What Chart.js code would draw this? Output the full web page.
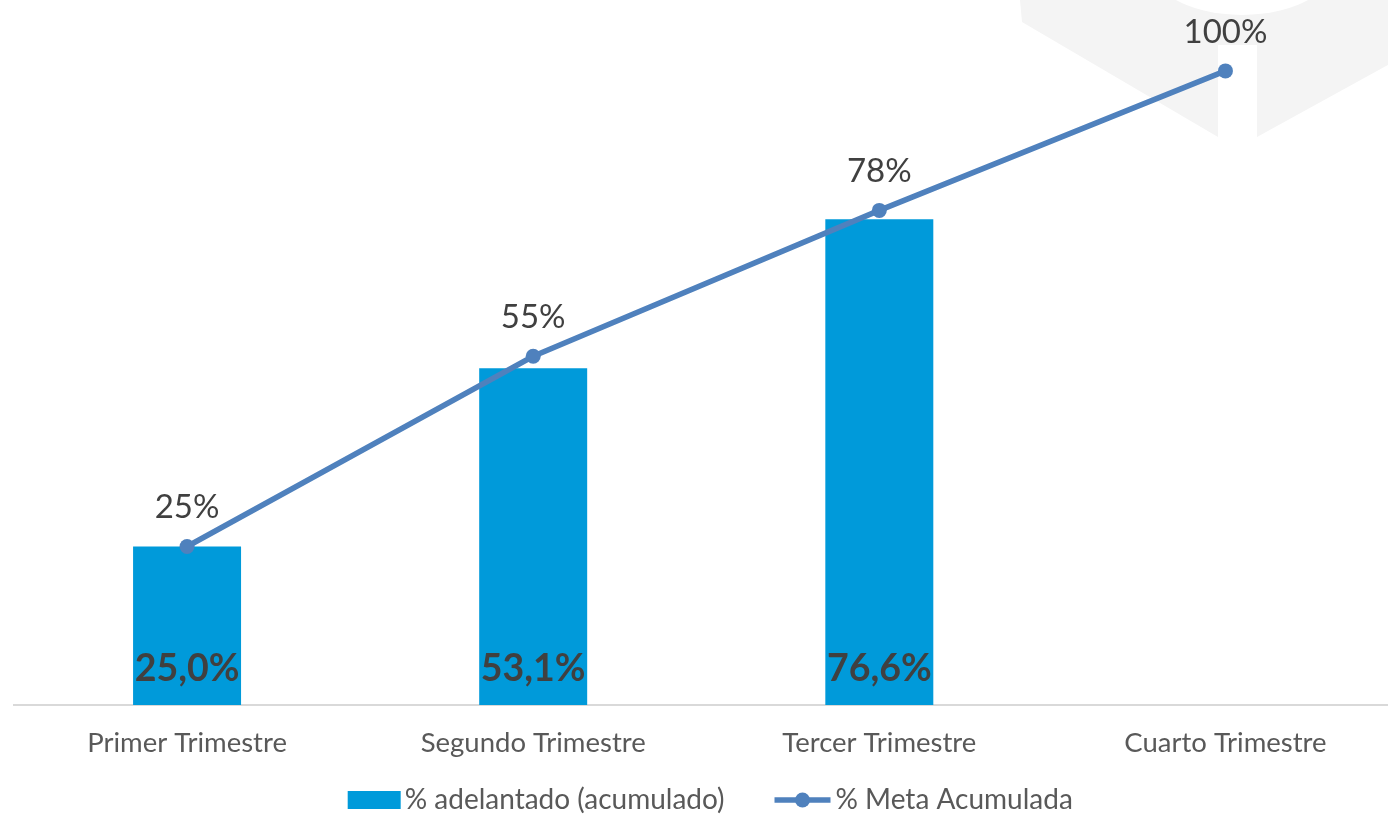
<!DOCTYPE html>
<html>
<head>
<meta charset="utf-8">
<script src="https://cdn.jsdelivr.net/npm/chart.js@4"></script>
<style>
  html, body { margin: 0; padding: 0; background: #fff; overflow: hidden; }
  #wrap { width: 1406px; height: 815px; }
</style>
</head>
<body>
<div id="wrap"><canvas id="chart" width="1406" height="815"></canvas></div>
<script>
// datos del gráfico
const categorias = ["Primer Trimestre", "Segundo Trimestre", "Tercer Trimestre", "Cuarto Trimestre"];
const adelantado = [25.0, 53.1, 76.6, null];
const metaAcumulada = [25, 55, 78, 100];
const nombreBarras = "% adelantado (acumulado)";
const nombreLinea = "% Meta Acumulada";

const azulBarra = "#009ADA";
const azulLinea = "#4F81BD";
const FUENTE = "Lato, 'Open Sans', sans-serif";

// marca de agua gris al fondo (arriba a la derecha)
const fondo = {
    id: "fondo",
    beforeDraw(chart) {
        const c = chart.ctx;
        c.save();
        c.fillStyle = "#F4F4F4";
        c.beginPath();
        c.moveTo(1020, 0);
        c.lineTo(1406, 0);
        c.lineTo(1406, 55);
        c.lineTo(1257, 137);
        c.lineTo(1257, 45);
        c.lineTo(1218, 45);
        c.lineTo(1218, 137);
        c.lineTo(1022, 22);
        c.closePath();
        c.fill();
        c.fillStyle = "#FFFFFF";
        c.beginPath();
        c.ellipse(1242, -45, 100, 60, 0, 0, Math.PI * 2);
        c.fill();
        c.restore();
    }
};

// etiquetas de valores
const etiquetas = {
    id: "etiquetas",
    afterDatasetsDraw(chart) {
        const c = chart.ctx;
        const base = chart.scales.y.getPixelForValue(0);
        c.save();
        c.textAlign = "center";
        c.textBaseline = "middle";
        c.fillStyle = "#404040";
        c.font = "bold 37.5px " + FUENTE;
        chart.getDatasetMeta(0).data.forEach((el, i) => {
            const v = adelantado[i];
            if (v == null) return;
            c.fillText(v.toFixed(1).replace(".", ",") + "%", el.x, base - 36);
        });
        c.font = "33px " + FUENTE;
        chart.getDatasetMeta(1).data.forEach((el, i) => {
            c.fillText(metaAcumulada[i] + "%", el.x, el.y - 39);
        });
        c.restore();
    }
};

// leyenda dibujada a mano
const leyenda = {
    id: "leyenda",
    afterDraw(chart) {
        const c = chart.ctx;
        const area = chart.chartArea;
        const y = 800;
        c.save();
        c.font = "28px " + FUENTE;
        c.textBaseline = "middle";
        const w1 = c.measureText(nombreBarras).width;
        const w2 = c.measureText(nombreLinea).width;
        const total = 53 + 4 + w1 + 50 + 56 + 5 + w2;
        let x = (area.left + area.right) / 2 - total / 2 + 4;
        c.fillStyle = azulBarra;
        c.fillRect(x, y - 9, 53, 18);
        x += 57;
        c.fillStyle = "#595959";
        c.fillText(nombreBarras, x, y);
        x += w1 + 50;
        c.strokeStyle = azulLinea;
        c.lineWidth = 5.5;
        c.beginPath();
        c.moveTo(x, y);
        c.lineTo(x + 56, y);
        c.stroke();
        c.fillStyle = azulLinea;
        c.beginPath();
        c.arc(x + 28, y, 7.5, 0, Math.PI * 2);
        c.fill();
        x += 61;
        c.fillStyle = "#595959";
        c.fillText(nombreLinea, x, y);
        c.restore();
    }
};

new Chart(document.getElementById("chart"), {
    type: "bar",
    data: {
        labels: categorias,
        datasets: [
            {
                type: "bar",
                label: nombreBarras,
                data: adelantado,
                backgroundColor: azulBarra,
                barPercentage: 0.312,
                categoryPercentage: 1,
                order: 2
            },
            {
                type: "line",
                label: nombreLinea,
                data: metaAcumulada,
                borderColor: azulLinea,
                backgroundColor: azulLinea,
                borderWidth: 5.5,
                pointRadius: 7.5,
                pointHoverRadius: 7.5,
                pointBorderWidth: 0,
                tension: 0,
                order: 1
            }
        ]
    },
    options: {
        responsive: false,
        animation: false,
        layout: { padding: { left: 14, right: 2, top: 4, bottom: 41 } },
        plugins: {
            legend: { display: false },
            tooltip: { enabled: false }
        },
        scales: {
            x: {
                grid: { display: false },
                border: { color: "#D9D9D9", width: 2 },
                ticks: {
                    color: "#595959",
                    font: { family: FUENTE, size: 27.5 },
                    padding: 14,
                    maxRotation: 0
                }
            },
            y: {
                display: false,
                min: 0,
                max: 110
            }
        }
    },
    plugins: [fondo, etiquetas, leyenda]
});
</script>
</body>
</html>
